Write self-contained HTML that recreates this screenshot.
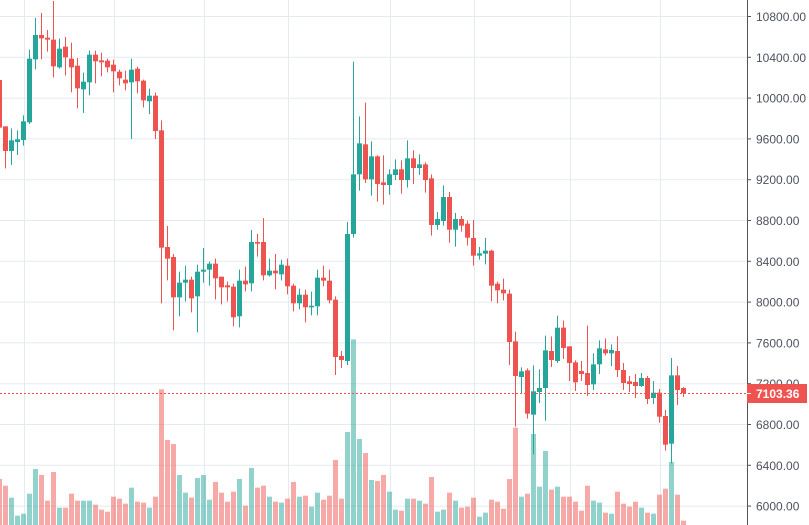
<!DOCTYPE html>
<html><head><meta charset="utf-8"><style>
html,body{margin:0;padding:0;background:#fff;overflow:hidden}
svg{display:block}
text{font-family:"Liberation Sans",sans-serif}
</style></head><body>
<svg id="c" width="809" height="525" xmlns="http://www.w3.org/2000/svg"></svg>
<script>
var d=[
[-1,'r',240,383,240,383,1437],
[0,'r',379,453,379,505,1457],[1,'g',421,453,385,495,1493],[2,'g',418,426,391,465,1547],[3,'g',364,420,346,437,1541],
[4,'g',176,367,149,372,1481],[5,'g',105,178,54,208,1407],[6,'r',105,115,39,178,1425],[7,'r',113,119,90,155,1502],
[8,'r',119,199,3,232,1416],[9,'g',146,202,116,206,1523],[10,'r',140,172,111,227,1523],[11,'r',176,202,128,277,1481],
[12,'r',197,265,174,325,1502],[13,'g',245,268,218,339,1502],[14,'g',164,247,152,286,1502],[15,'r',164,184,152,250,1514],
[16,'r',181,187,158,229,1529],[17,'r',182,202,176,217,1535],[18,'r',194,214,179,277,1490],[19,'r',215,235,209,256,1496],
[20,'r',239,250,212,271,1511],[21,'g',209,247,176,417,1463],[22,'r',206,244,200,280,1505],[23,'r',242,301,239,322,1508],
[24,'g',287,304,266,342,1523],[25,'r',287,393,278,417,1490],[26,'r',391,743,361,910,1168],[27,'r',741,776,678,841,1320],
[28,'r',771,892,762,991,1332],[29,'g',848,892,815,949,1425],[30,'g',839,848,797,904,1478],[31,'r',839,895,830,937,1493],
[32,'g',815,889,794,997,1434],[33,'g',809,815,744,848,1425],[34,'g',791,809,785,857,1499],[35,'r',791,835,776,898,1446],
[36,'r',830,862,830,913,1478],[37,'r',856,862,845,904,1505],[38,'r',860,952,851,979,1475],[39,'g',842,949,809,982,1437],
[40,'r',842,853,800,874,1517],[41,'g',726,850,690,874,1404],[42,'r',726,731,702,770,1463],[43,'r',726,826,654,841,1457],
[44,'g',812,826,776,830,1490],[45,'r',812,820,762,868,1505],[46,'g',794,823,779,841,1508],[47,'r',797,859,776,883,1496],
[48,'r',857,910,851,934,1446],[49,'g',884,910,866,928,1490],[50,'r',884,922,869,967,1487],[51,'g',917,922,875,946,1520],
[52,'g',833,919,809,946,1478],[53,'r',833,842,797,859,1499],[54,'r',842,901,809,910,1487],[55,'r',899,1071,889,1125,1380],
[56,'r',1068,1080,1053,1104,1496],[57,'g',702,1083,666,1095,1296],[58,'g',523,702,185,713,1018],[59,'g',430,523,349,572,1317],
[60,'r',433,538,308,549,1359],[61,'g',469,538,424,587,1440],[62,'r',469,552,466,605,1443],[63,'r',547,555,466,614,1425],
[64,'g',523,555,508,584,1475],[65,'g',508,525,478,540,1529],[66,'r',508,540,481,581,1532],[67,'g',475,540,421,563,1496],
[68,'r',475,504,451,552,1496],[69,'g',493,504,463,525,1502],[70,'r',493,540,487,578,1511],[71,'r',535,675,523,707,1431],
[72,'g',657,675,636,689,1535],[73,'g',591,663,556,677,1529],[74,'r',591,689,576,728,1478],[75,'g',657,689,639,740,1502],
[76,'r',657,677,648,695,1523],[77,'r',671,713,662,737,1520],[78,'r',714,767,660,797,1493],[79,'g',760,767,741,779,1550],
[80,'g',752,761,714,793,1538],[81,'r',752,857,749,904,1499],[82,'r',851,871,845,910,1505],[83,'r',869,880,836,901,1526],
[84,'r',881,1026,869,1095,1437],[85,'r',1024,1128,995,1280,1283],[86,'g',1114,1131,1102,1182,1490],[87,'r',1111,1241,1105,1256,1481],
[88,'g',1174,1244,1096,1363,1302],[89,'g',1164,1176,1108,1209,1460],[90,'g',1051,1164,1007,1262,1353],[91,'r',1053,1080,1009,1101,1469],
[92,'g',983,1083,947,1089,1460],[93,'r',983,1044,962,1077,1490],[94,'r',1039,1089,1039,1143,1490],[95,'r',1087,1147,1081,1173,1505],
[96,'r',1113,1122,1083,1143,1532],[97,'r',1119,1155,977,1188,1457],[98,'g',1093,1153,1060,1170,1502],[99,'g',1045,1093,1021,1122,1508],
[100,'r',1048,1060,1015,1066,1538],[101,'g',1050,1060,1033,1098,1541],[102,'r',1053,1110,1009,1131,1475],[103,'r',1110,1149,1089,1170,1511],
[104,'r',1144,1152,1128,1176,1520],[105,'r',1146,1158,1122,1194,1505],[106,'g',1134,1158,1119,1161,1523],[107,'r',1134,1197,1128,1212,1538],
[108,'g',1178,1194,1143,1212,1541],[109,'r',1178,1250,1167,1268,1484],[110,'r',1248,1334,1230,1352,1466],[111,'g',1126,1331,1074,1390,1386],
[112,'r',1126,1170,1098,1215,1484],[113,'r',1164,1179,1161,1191,1562]];
var s='';
var G='#e3ebf1';
[24,114,204,288,390,474,570,660].forEach(function(x){s+='<line x1="'+(x+.5)+'" y1="0" x2="'+(x+.5)+'" y2="525" stroke="'+G+'" stroke-width="1"/>';});
for(var p=10800;p>=6000;p-=400){var y=16.5+(10800-p)*0.102;
 s+='<line x1="0" y1="'+y+'" x2="747" y2="'+y+'" stroke="'+G+'" stroke-width="1"/>';
 s+='<line x1="747" y1="'+y+'" x2="751" y2="'+y+'" stroke="#555" stroke-width="1"/>';
 s+='<text x="756" y="'+(y+4.5)+'" font-size="12" fill="#4c525e">'+p+'.00</text>';}
d.forEach(function(c){var x=5.5+6*c[0];var col=c[1]=='g'?'#26a69a':'#ef5350';
 var vt=c[6]/3;s+='<rect x="'+(x-2.5)+'" y="'+vt+'" width="5" height="'+(525-vt)+'" fill="'+col+'" fill-opacity="0.5"/>';});
d.forEach(function(c){var x=5.5+6*c[0];var col=c[1]=='g'?'#26a69a':'#ef5350';
 s+='<line x1="'+x+'" y1="'+c[4]/3+'" x2="'+x+'" y2="'+c[5]/3+'" stroke="'+col+'" stroke-width="1"/>';
 var t=c[2]/3,b=c[3]/3;if(b-t<1.5)b=t+1.5;
 s+='<rect x="'+(x-2.5)+'" y="'+t+'" width="5" height="'+(b-t)+'" fill="'+col+'"/>';});
s+='<line x1="0" y1="393.5" x2="747" y2="393.5" stroke="#ef5350" stroke-width="1" stroke-dasharray="2,2"/>';
s+='<line x1="747.5" y1="0" x2="747.5" y2="525" stroke="#555" stroke-width="1"/>';
s+='<rect x="747" y="384" width="60" height="19" fill="#ef5350"/>';
s+='<line x1="747" y1="393.5" x2="751" y2="393.5" stroke="#fff"/>';
s+='<text x="756" y="398" font-size="12" font-weight="bold" fill="#fff">7103.36</text>';
document.getElementById('c').innerHTML=s;
</script>
</body></html>
